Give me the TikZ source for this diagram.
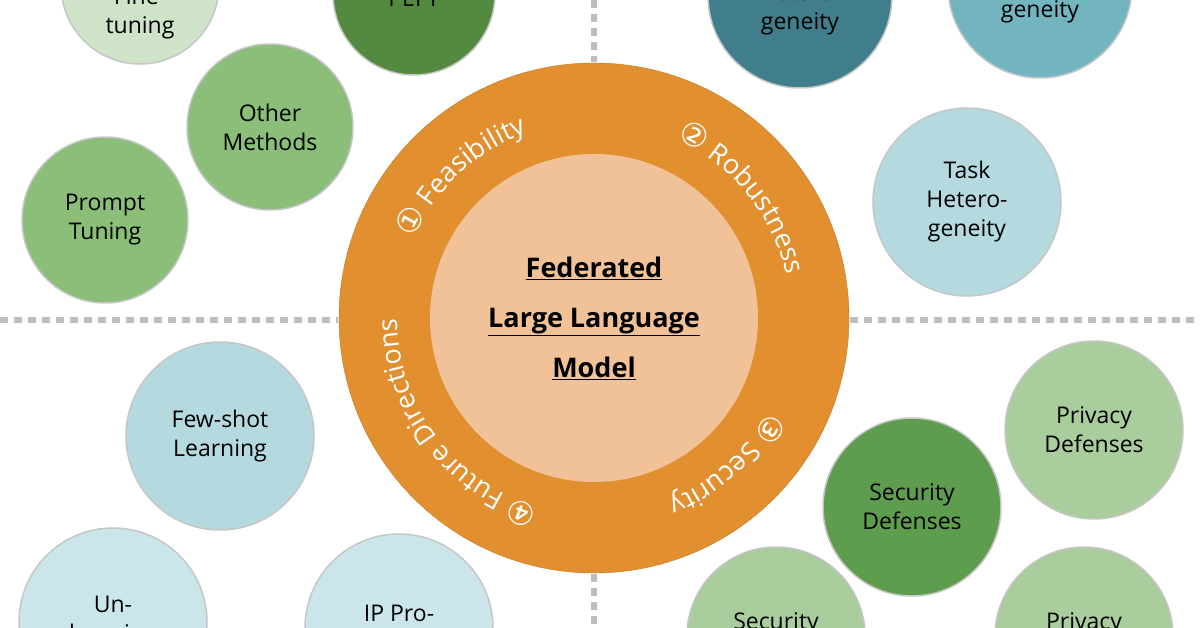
\documentclass[tikz,border=0pt]{standalone}
\usepackage{fontspec}
\setmainfont{Open Sans}
\newfontfamily\symfont{DejaVu Sans}
\usetikzlibrary{decorations.text}

\definecolor{ringorange}{HTML}{E28F2F}
\definecolor{corepeach}{HTML}{F1C298}
\definecolor{palegreen}{HTML}{CFE3C8}
\definecolor{darkgreen}{HTML}{548A40}
\definecolor{midgreen}{HTML}{8BBE79}
\definecolor{softgreen}{HTML}{A9CD9C}
\definecolor{secgreen}{HTML}{5F9D4E}
\definecolor{darkteal}{HTML}{3F7E8A}
\definecolor{midteal}{HTML}{73B5BF}
\definecolor{paleteal}{HTML}{B4D9DE}
\definecolor{iceteal}{HTML}{CBE6EA}
\definecolor{dashgray}{HTML}{BDBDBD}

\begin{document}
\begin{tikzpicture}[x = 1pt, y = 1pt, % one unit is one pixel
                bub/.style = {circle, draw = gray!45, line width = 1.5pt,
                    fill = #1, minimum size = 182pt, inner sep = 0pt,
                    align = center, font = \fontsize{23}{29}\selectfont},
                lbl/.style = {align = center, font = \fontsize{23}{29}\selectfont},
                sep/.style = {dashgray, line width = 6pt, dash pattern = on 8pt off 6pt},
                ring/.style = {decorate, decoration = {text along path,
                    text align = center, text color = white,
                    text = {#1}}}
            ]

            \useasboundingbox (0,0) rectangle (1200,-628);

            % separators
            \coordinate (hl1) at (0,-320); \coordinate (hl2) at (338,-320);
            \coordinate (hr1) at (850,-320); \coordinate (hr2) at (1200,-320);
            \coordinate (vt1) at (594,0); \coordinate (vt2) at (594,-62);
            \coordinate (vb1) at (594,-574); \coordinate (vb2) at (594,-628);
            \draw[sep] (hl1) -- (hl2); \draw[sep] (hr1) -- (hr2);
            \draw[sep] (vt1) -- (vt2); \draw[sep] (vb1) -- (vb2);

            % centre
            \node (outer) [circle, fill = ringorange, draw = ringorange!85!black,
                minimum size = 510pt] at (594,-318) {};
            \node (core) [circle, fill = corepeach, minimum size = 328pt,
                align = center, font = \bfseries\fontsize{27}{50}\selectfont]
                at (594,-318) {\underline{Federated}\\\underline{Large Language}\\\underline{Model}};

            \path[ring = {|\symfont\fontsize{32}{32}\selectfont|①|\fontsize{27}{27}\selectfont| Feasibility}]
                (outer.center) ++(162:197) arc[start angle = 162, end angle = 104, radius = 197];
            \path[ring = {|\symfont\fontsize{32}{32}\selectfont|②|\fontsize{27}{27}\selectfont| Robustness}]
                (outer.center) ++(70:197) arc[start angle = 70, end angle = 8, radius = 197];
            \path[ring = {|\symfont\fontsize{32}{32}\selectfont|③|\fontsize{27}{27}\selectfont| Security}]
                (outer.center) ++(-22:197) arc[start angle = -22, end angle = -74, radius = 197];
            \path[ring = {|\symfont\fontsize{32}{32}\selectfont|④|\fontsize{27}{27}\selectfont| Future Directions}]
                (outer.center) ++(-100:197) arc[start angle = -100, end angle = -186, radius = 197];

            % top left
            \node (fine) [bub = palegreen, minimum size = 158pt,
                label = {[lbl, yshift = -28pt]center:Fine-\\tuning}] at (140,15) {};
            \node (peft) [bub = darkgreen, minimum size = 162pt,
                label = {[lbl, yshift = -4pt]center:PEFT}] at (414,6) {};
            \node (other) [bub = midgreen, minimum size = 166pt] at (270,-127) {Other\\Methods};
            \node (prompt) [bub = midgreen, minimum size = 166pt] at (105,-220) {Prompt\\Tuning};

            % top right
            \node (model) [bub = darkteal, minimum size = 184pt,
                label = {[lbl, yshift = -14pt]center:Hetero-\\geneity}] at (800,4) {};
            \node (data) [bub = midteal, minimum size = 184pt,
                label = {[lbl, yshift = -12pt]center:Hetero-\\geneity}] at (1040,14) {};
            \node (task) [bub = paleteal, minimum size = 188pt] at (967,-202) {Task\\Hetero-\\geneity};

            % bottom left
            \node (few) [bub = paleteal, minimum size = 188pt] at (220,-436) {Few-shot\\Learning};
            \node (unlearn) [bub = iceteal, minimum size = 188pt] at (113,-622) {Un-\\learning};
            \node (ip) [bub = iceteal, minimum size = 188pt] at (399,-628) {IP Pro-\\tection};

            % bottom right
            \node (secdef) [bub = secgreen, minimum size = 178pt] at (912,-507) {Security\\Defenses};
            \node (privdef) [bub = softgreen, minimum size = 178pt] at (1094,-430) {Privacy\\Defenses};
            \node (secb) [bub = softgreen, minimum size = 178pt] at (776,-636) {Security\\\mbox{}};
            \node (privb) [bub = softgreen, minimum size = 178pt] at (1084,-636) {Privacy\\\mbox{}};
        \end{tikzpicture}
\end{document}
